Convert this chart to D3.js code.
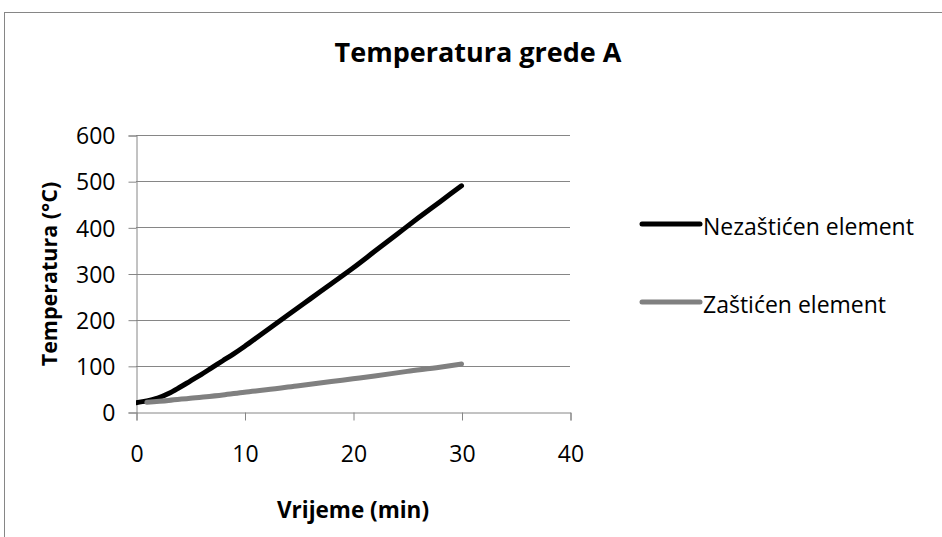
<!DOCTYPE html>
<html>
<head>
<meta charset="utf-8">
<script src="https://cdn.jsdelivr.net/npm/d3@7"></script>
<style>
  body { margin: 0; background: #fff; }
  text { font-family: "Open Sans", sans-serif; fill: #000; }
</style>
</head>
<body>
<div id="chart"></div>
<script>
// data
var timeA = [0, 1, 2, 3, 4, 5, 6, 7, 8, 9, 10, 12, 14, 16, 18, 20, 22, 24, 26, 28, 30];
var tempA = [20, 24, 30, 40, 53, 67, 81, 96, 111, 126, 142, 176, 210, 244, 278, 312, 348, 384, 420, 455, 490];
var timeB = [1, 3, 5, 8, 10, 12, 15, 18, 20, 22, 25, 28, 30];
var tempB = [21, 25, 30, 37, 43, 48, 57, 66, 72, 78, 88, 97, 104];
var seriesNames = ["Nezaštićen element", "Zaštićen element"];
var seriesColors = ["#000000", "#808080"];
var xTicks = [0, 10, 20, 30, 40];
var yTicks = [0, 100, 200, 300, 400, 500, 600];

var svgWidth = 942, svgHeight = 537;
var plot = {"left": 136, "right": 570, "top": 135, "bottom": 412};
var fontFamily = "'Open Sans', sans-serif";

var svg = d3.select("#chart").append("svg")
	.attr("width", svgWidth)
	.attr("height", svgHeight);

// chart frame (cut off at right and bottom in the original)
svg.append("rect")
	.attr("x", 4.5).attr("y", 12.5)
	.attr("width", 960).attr("height", 560)
	.attr("fill", "none")
	.attr("stroke", "#868686")
	.attr("stroke-width", 1);

var xScale = d3.scaleLinear().domain([0, 40]).range([plot.left, plot.right]);
var yScale = d3.scaleLinear().domain([0, 600]).range([plot.bottom, plot.top]);

// gridlines
svg.append("g").selectAll("line")
	.data(yTicks.filter(function(d) { return d > 0; }))
	.enter().append("line")
	.attr("x1", plot.left).attr("x2", plot.right)
	.attr("y1", function(d) { return Math.round(yScale(d)) + 0.5; })
	.attr("y2", function(d) { return Math.round(yScale(d)) + 0.5; })
	.attr("stroke", "#868686");

// y axis
var yAxis = d3.axisLeft(yScale).tickValues(yTicks).tickSize(8).tickPadding(13);
var gy = svg.append("g")
	.attr("transform", "translate(" + (plot.left + 0.5) + ",0.5)")
	.call(yAxis);
gy.select(".domain").attr("stroke", "#868686");
gy.selectAll(".tick line").attr("stroke", "#868686");
gy.selectAll(".tick text").attr("font-size", 23).attr("font-family", fontFamily).attr("dy", "0.36em");

// x axis
var xAxis = d3.axisBottom(xScale).tickValues(xTicks).tickSize(8).tickPadding(25);
var gx = svg.append("g")
	.attr("transform", "translate(0.5," + (plot.bottom + 0.5) + ")")
	.call(xAxis);
gx.select(".domain").attr("stroke", "#868686");
gx.selectAll(".tick line").attr("stroke", "#868686");
gx.selectAll(".tick text").attr("font-size", 23).attr("font-family", fontFamily);

// lines
svg.append("clipPath").attr("id", "plotClip")
	.append("rect")
	.attr("x", plot.left).attr("y", 0)
	.attr("width", svgWidth).attr("height", svgHeight);

var line = d3.line()
	.x(function(d) { return xScale(d[0]); })
	.y(function(d) { return yScale(d[1]); })
	.curve(d3.curveMonotoneX);

var seriesData = [
	d3.zip(timeA, tempA),
	d3.zip(timeB, tempB)
];

svg.append("g").attr("clip-path", "url(#plotClip)")
	.selectAll("path")
	.data(seriesData)
	.enter().append("path")
	.attr("d", line)
	.attr("fill", "none")
	.attr("stroke", function(d, i) { return seriesColors[i]; })
	.attr("stroke-width", 5)
	.attr("stroke-linecap", "round")
	.attr("stroke-linejoin", "round");

// legend
var legendY = [224, 302];
var legend = svg.append("g").selectAll("g")
	.data(seriesNames)
	.enter().append("g")
	.attr("transform", function(d, i) { return "translate(642," + legendY[i] + ")"; });
legend.append("line")
	.attr("x1", 0).attr("x2", 58)
	.attr("stroke", function(d, i) { return seriesColors[i]; })
	.attr("stroke-width", 5)
	.attr("stroke-linecap", "round");
legend.append("text")
	.attr("x", 61).attr("y", 11)
	.attr("font-size", 23)
	.text(function(d) { return d; });

// titles
svg.append("text")
	.attr("x", 478).attr("y", 62)
	.attr("text-anchor", "middle")
	.attr("font-size", 27).attr("font-weight", "bold")
	.text("Temperatura grede A");

svg.append("text")
	.attr("x", 353).attr("y", 518)
	.attr("text-anchor", "middle")
	.attr("font-size", 22.5).attr("font-weight", "bold")
	.text("Vrijeme (min)");

svg.append("text")
	.attr("transform", "translate(57,274) rotate(-90)")
	.attr("text-anchor", "middle")
	.attr("font-size", 21.5).attr("font-weight", "bold")
	.text("Temperatura (°C)");
</script>
</body>
</html>
